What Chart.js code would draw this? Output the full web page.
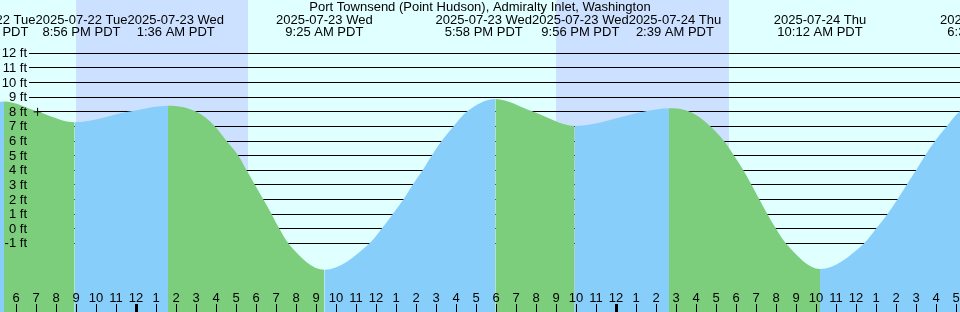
<!DOCTYPE html>
<html><head><meta charset="utf-8">
<script src="https://cdn.jsdelivr.net/npm/chart.js@4/dist/chart.umd.min.js"></script>
<style>html,body{margin:0;padding:0;background:#e0ffff;overflow:hidden}canvas{display:block}</style>
</head><body>
<canvas id="c" width="960" height="312"></canvas>
<script>
// ---- DATA (times are hours since 2025-07-22 00:00 PDT, heights in ft) ----
const stationTitle = "Port Townsend (Point Hudson), Admiralty Inlet, Washington";

const tideTimes = [16.9, 17.4, 19.1, 20.933, 23.6, 25.6, 27.03, 27.95, 28.53, 29.12, 29.53, 29.95, 30.37, 30.78, 31.17, 31.62, 33.417,
  35.67, 36.28, 36.83, 37.37, 37.83, 38.33, 38.78, 39.28, 39.87, 40.53, 41.967, 43.87, 45.933, 49.37, 50.65,
  51.7, 52.73, 53.4, 53.9, 54.37, 54.78, 55.17, 55.57, 56.0, 56.5, 58.2,
  60.4, 61.0, 61.57, 62.07, 62.53, 63.0, 63.45, 63.95, 64.53, 65.17, 66.517];
const tideHeights = [8.62, 8.70, 8.0, 7.28, 8.0, 8.42, 8.0, 7.0, 6.0, 5.0, 4.0, 3.0, 2.0, 1.0, 0.0, -1.0, -2.80,
  -1.0, 0.0, 1.0, 2.0, 3.0, 4.0, 5.0, 6.0, 7.0, 8.0, 8.88, 8.0, 7.03, 8.0, 8.24,
  8.0, 7.0, 6.0, 5.0, 4.0, 3.0, 2.0, 1.0, 0.0, -1.0, -2.75,
  -1.0, 0.0, 1.0, 2.0, 3.0, 4.0, 5.0, 6.0, 7.0, 8.0, 8.9];

const extremaTimes = [17.4, 20.933, 25.6, 33.417, 41.967, 45.933, 50.65, 58.2, 66.517];
const extremaDates = ["2025-07-22 Tue", "2025-07-22 Tue", "2025-07-23 Wed", "2025-07-23 Wed", "2025-07-23 Wed",
  "2025-07-23 Wed", "2025-07-24 Thu", "2025-07-24 Thu", "2025-07-24 Thu"];
const extremaClock = ["5:24 PM PDT", "8:56 PM PDT", "1:36 AM PDT", "9:25 AM PDT", "5:58 PM PDT",
  "9:56 PM PDT", "2:39 AM PDT", "10:12 AM PDT", "6:31 PM PDT"];

const nightStarts = [21.0, 45.0];
const nightEnds = [29.58, 53.63];

const heightTicks = [-1, 0, 1, 2, 3, 4, 5, 6, 7, 8, 9, 10, 11, 12];
const heightTickLabels = ["-1 ft", "0 ft", "1 ft", "2 ft", "3 ft", "4 ft", "5 ft", "6 ft", "7 ft", "8 ft", "9 ft", "10 ft", "11 ft", "12 ft"];

const hourTickStart = 18;
const hourTickLabels = ["6","7","8","9","10","11",
  "12","1","2","3","4","5","6","7","8","9","10","11",
  "12","1","2","3","4","5","6","7","8","9","10","11",
  "12","1","2","3","4","5","6","7","8","9","10","11",
  "12","1","2","3","4","5"];
const midnightTicks = [24, 48];

const markerTimes = [19.08];
const markerHeights = [8.0];

// ---- STYLE ----
const FONT = '13px "Liberation Sans", Arial, Helvetica, sans-serif';
const colors = { day: '#e0ffff', night: '#cce0ff', ebb: '#7ccd7c', flood: '#87cefa', ink: '#000000' };

const tidePoints = tideTimes.map((t, i) => ({ x: t, y: tideHeights[i] }));
const markerPoints = markerTimes.map((t, i) => ({ x: t, y: markerHeights[i] }));

function layoutLabels(items, gap) {
  let clusters = items.map(it => [it]);
  const place = cl => {
    const offs = [0];
    for (let k = 1; k < cl.length; k++) offs.push(offs[k - 1] + (cl[k - 1].w + cl[k].w) / 2 + gap);
    const meanT = cl.reduce((s, it) => s + it.x, 0) / cl.length;
    const meanO = offs.reduce((s, o) => s + o, 0) / cl.length;
    cl.forEach((it, k) => { it.cx = meanT - meanO + offs[k]; });
  };
  let changed = true;
  while (changed) {
    changed = false;
    clusters.forEach(place);
    for (let i = 0; i < clusters.length - 1; i++) {
      const a = clusters[i][clusters[i].length - 1], b = clusters[i + 1][0];
      if (a.cx + a.w / 2 + gap > b.cx - b.w / 2) {
        clusters.splice(i, 2, clusters[i].concat(clusters[i + 1]));
        changed = true;
        break;
      }
    }
  }
  clusters.forEach(place);
}

const decor = {
  id: 'decor',
  beforeDraw(chart) {
    const { ctx, scales: { x } } = chart;
    ctx.save();
    ctx.fillStyle = colors.day;
    ctx.fillRect(0, 0, chart.width, chart.height);
    ctx.fillStyle = colors.night;
    nightStarts.forEach((s, i) => {
      const x0 = Math.round(x.getPixelForValue(s)), x1 = Math.round(x.getPixelForValue(nightEnds[i]));
      ctx.fillRect(x0, 0, x1 - x0, chart.height);
    });
    ctx.restore();
  },
  beforeDatasetsDraw(chart) {
    const { ctx, scales: { y } } = chart;
    ctx.save();
    ctx.fillStyle = colors.ink;
    heightTicks.forEach(v => {
      const py = Math.round(y.getPixelForValue(v) - 0.5);
      ctx.fillRect(29, py, chart.width - 29, 1);
    });
    ctx.restore();
  },
  afterDatasetsDraw(chart) {
    const { ctx, scales: { x, y } } = chart;
    ctx.save();
    ctx.font = FONT;
    ctx.fillStyle = colors.ink;
    // height labels
    ctx.textAlign = 'right';
    ctx.textBaseline = 'middle';
    heightTicks.forEach((v, i) => {
      ctx.fillText(heightTickLabels[i], 27, Math.round(y.getPixelForValue(v)));
    });
    // hour ticks
    ctx.textAlign = 'center';
    ctx.textBaseline = 'alphabetic';
    hourTickLabels.forEach((lab, i) => {
      const t = hourTickStart + i;
      const px = Math.round(x.getPixelForValue(t));
      if (midnightTicks.includes(t)) ctx.fillRect(px - 1, 304, 3, 8);
      else ctx.fillRect(px, 304, 1, 8);
      ctx.fillText(lab, px, 302);
    });
    // extrema labels
    const items = extremaTimes.map((t, i) => ({
      x: x.getPixelForValue(t),
      w: Math.max(ctx.measureText(extremaDates[i]).width, ctx.measureText(extremaClock[i]).width),
      i
    }));
    layoutLabels(items, 0);
    items.forEach(it => {
      ctx.fillText(extremaDates[it.i], it.cx, 24);
      ctx.fillText(extremaClock[it.i], it.cx, 36);
    });
    // title
    ctx.fillText(stationTitle, chart.width / 2, 11);
    ctx.restore();
  }
};

new Chart(document.getElementById('c'), {
  type: 'line',
  data: {
    datasets: [
      {
        label: 'now',
        data: markerPoints,
        showLine: false,
        pointStyle: 'cross',
        pointRadius: 4,
        pointHoverRadius: 4,
        pointBorderWidth: 1,
        pointBorderColor: colors.ink,
        pointBackgroundColor: colors.ink,
        fill: false
      },
      {
        label: 'Tide',
        data: tidePoints,
        cubicInterpolationMode: 'monotone',
        pointRadius: 0,
        pointHoverRadius: 0,
        borderWidth: 0,
        borderColor: 'rgba(0,0,0,0)',
        backgroundColor: colors.flood,
        fill: 'start',
        segment: {
          backgroundColor: c => (c.p1.parsed.y >= c.p0.parsed.y ? colors.flood : colors.ebb),
          borderColor: 'rgba(0,0,0,0)'
        }
      }
    ]
  },
  options: {
    responsive: false,
    maintainAspectRatio: false,
    animation: false,
    devicePixelRatio: 1,
    layout: { padding: 0, autoPadding: false },
    events: [],
    plugins: { legend: { display: false }, tooltip: { enabled: false }, title: { display: false } },
    scales: {
      x: { type: 'linear', min: 17.2, max: 65.2, display: false },
      y: { type: 'linear', min: -5.691, max: 15.65, display: false }
    }
  },
  plugins: [decor]
});
</script>
</body></html>
